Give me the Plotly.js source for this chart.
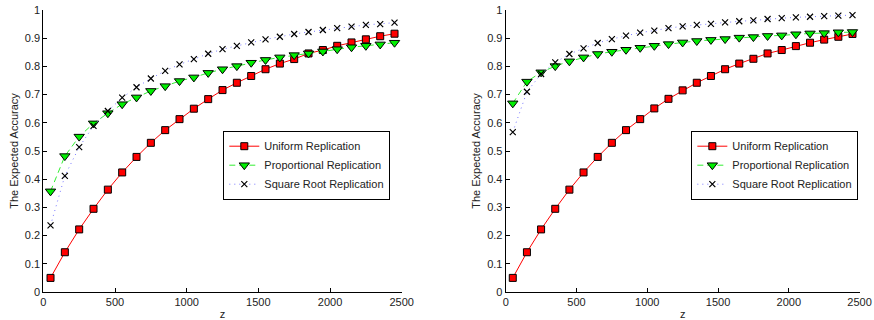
<!DOCTYPE html>
<html>
<head>
<meta charset="utf-8">
<script src="https://cdn.plot.ly/plotly-3.0.1.min.js"></script>
<style>html,body{margin:0;padding:0;background:#fff;}#chart{width:874px;height:320px;}</style>
</head>
<body>
<div id="chart"></div>
<script>
// Data
const zValues = [50,150,250,350,450,550,650,750,850,950,1050,1150,1250,1350,1450,1550,1650,1750,1850,1950,2050,2150,2250,2350,2450];

const uniformLeft = [0.050,0.141,0.222,0.295,0.363,0.424,0.479,0.529,0.574,0.613,0.650,0.684,0.716,0.742,0.766,0.790,0.810,0.826,0.846,0.858,0.873,0.885,0.896,0.907,0.916];
const proportionalLeft = [0.357,0.482,0.551,0.598,0.634,0.666,0.690,0.713,0.730,0.748,0.761,0.777,0.790,0.801,0.813,0.823,0.832,0.840,0.846,0.853,0.861,0.868,0.873,0.878,0.884];
const sqrtLeft = [0.236,0.412,0.514,0.589,0.642,0.689,0.726,0.757,0.784,0.807,0.826,0.845,0.861,0.873,0.885,0.896,0.905,0.915,0.922,0.929,0.936,0.941,0.947,0.950,0.955];

const uniformRight = [0.050,0.141,0.222,0.295,0.363,0.424,0.479,0.529,0.574,0.613,0.651,0.685,0.715,0.742,0.766,0.790,0.810,0.827,0.846,0.858,0.872,0.884,0.895,0.905,0.915];
const proportionalRight = [0.669,0.746,0.779,0.801,0.818,0.832,0.844,0.852,0.859,0.866,0.873,0.879,0.885,0.890,0.894,0.897,0.902,0.904,0.908,0.910,0.914,0.917,0.918,0.921,0.922];
const sqrtRight = [0.567,0.710,0.773,0.814,0.844,0.864,0.883,0.897,0.909,0.920,0.927,0.936,0.942,0.947,0.951,0.956,0.960,0.963,0.968,0.971,0.974,0.976,0.978,0.980,0.982];

const seriesNames = ['Uniform Replication','Proportional Replication','Square Root Replication'];
const xTickVals = [0,500,1000,1500,2000,2500];
const xTickText = ['0','500','1000','1500','2000','2500'];
const yTickVals = [0,0.1,0.2,0.3,0.4,0.5,0.6,0.7,0.8,0.9,1];
const yTickText = ['0','0.1','0.2','0.3','0.4','0.5','0.6','0.7','0.8','0.9','1'];
const xTitle = 'z';
const yTitle = 'The Expected Accuracy';

const FONT = 'Liberation Sans, Arial, sans-serif';

function styles(i){
  if(i===0) return {line:{color:'#ff0000',width:1,dash:'solid'},
    marker:{symbol:'square',size:7,color:'#ff0000',line:{color:'#000',width:1}}};
  if(i===1) return {line:{color:'#33ee33',width:1,dash:'6px,4px'},
    marker:{symbol:'triangle-down',size:9,color:'#00ee00',line:{color:'#000',width:1}}};
  return {line:{color:'#7777ff',width:1,dash:'1px,4px'},
    marker:{symbol:'x-thin-open',size:6,color:'#000',line:{color:'#000',width:1.2}}};
}

function mk(ys, i, xa, ya, leg){
  const s = styles(i);
  return {x:zValues, y:ys, type:'scatter', mode:'lines+markers', name:seriesNames[i],
    xaxis:xa, yaxis:ya, legend:leg, line:s.line, marker:s.marker};
}

const data = [
  mk(uniformLeft,0,'x','y','legend'),
  mk(proportionalLeft,1,'x','y','legend'),
  mk(sqrtLeft,2,'x','y','legend'),
  mk(uniformRight,0,'x2','y2','legend2'),
  mk(proportionalRight,1,'x2','y2','legend2'),
  mk(sqrtRight,2,'x2','y2','legend2')
];

function xAxis(domain, anchor){
  return {domain:domain, anchor:anchor, range:[0,2500], tickvals:xTickVals, ticktext:xTickText,
    showline:true, linecolor:'#000', linewidth:1, ticks:'inside', ticklen:4, tickcolor:'#000',
    showgrid:false, zeroline:false, automargin:false, ticklabeloverflow:'allow',
    tickfont:{family:FONT,size:11,color:'#222'},
    title:{text:xTitle, font:{family:FONT,size:11,color:'#222'}, standoff:4}};
}
function yAxis(anchor){
  return {domain:[0,1], anchor:anchor, range:[0,1], tickvals:yTickVals, ticktext:yTickText,
    showline:true, linecolor:'#000', linewidth:1, ticks:'inside', ticklen:4, tickcolor:'#000',
    showgrid:false, zeroline:false, automargin:false, ticklabeloverflow:'allow',
    tickfont:{family:FONT,size:11,color:'#222'},
    title:{text:yTitle, font:{family:FONT,size:11,color:'#222'}, standoff:4}};
}
function legend(x){
  return {x:x, y:0.572, xanchor:'left', yanchor:'top', bgcolor:'#fff', bordercolor:'#000', borderwidth:1,
    font:{family:FONT,size:11,color:'#222'}, tracegroupgap:0, itemwidth:30};
}

const layout = {
  width:874, height:320, margin:{l:0,r:0,t:10,b:28}, paper_bgcolor:'#fff', plot_bgcolor:'#fff',
  showlegend:true,
  xaxis: xAxis([0.0496,0.4596],'y'),
  yaxis: yAxis('x'),
  xaxis2: xAxis([0.5786,0.9835],'y2'),
  yaxis2: yAxis('x2'),
  legend: legend(0.2555),
  legend2: legend(0.791)
};

Plotly.newPlot('chart', data, layout, {displayModeBar:false, staticPlot:true});
</script>
</body>
</html>
